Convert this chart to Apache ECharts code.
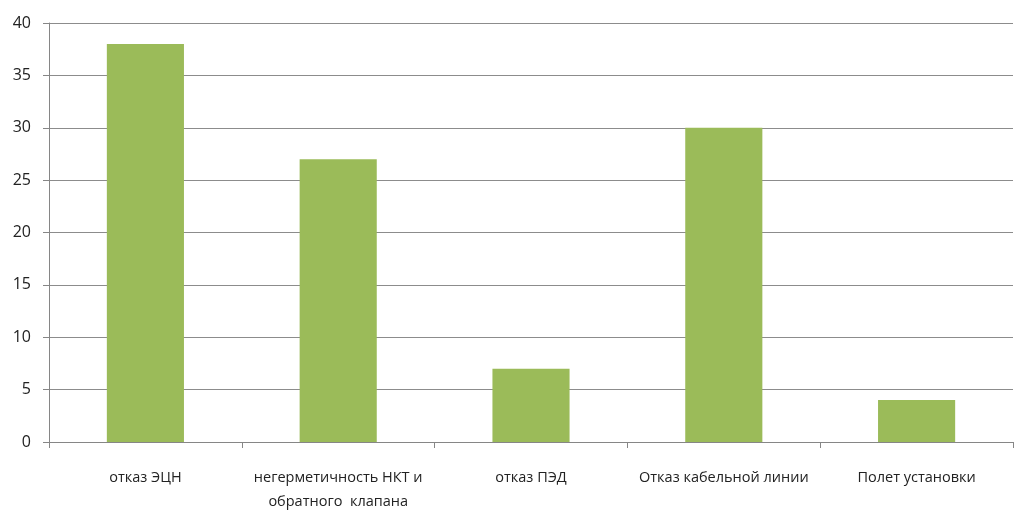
<!DOCTYPE html>
<html>
<head>
<meta charset="utf-8">
<script src="https://cdn.jsdelivr.net/npm/echarts@6/dist/echarts.min.js"></script>
<style>
  html, body { margin: 0; padding: 0; background: #fff; }
  #chart { width: 1018px; height: 514px; }
</style>
</head>
<body>
<div id="chart"></div>
<script>
// Causes of failures and their counts
const categories = [
  'отказ ЭЦН',
  'негерметичность НКТ и\nобратного  клапана',
  'отказ ПЭД',
  'Отказ кабельной линии',
  'Полет установки'
];
const counts = [38, 27, 7, 30, 4];
const yTicks = { min: 0, max: 40, interval: 5 };

const chart = echarts.init(document.getElementById('chart'), null, { renderer: 'canvas' });
chart.setOption({
  animation: false,
  backgroundColor: '#ffffff',
  grid: { left: 49, right: 5, top: 23, bottom: 69, containLabel: false },
  xAxis: {
    type: 'category',
    data: categories,
    axisLine: { lineStyle: { color: '#868686', width: 1 } },
    axisTick: { show: true, alignWithLabel: false, length: 6, lineStyle: { color: '#868686' } },
    axisLabel: {
      color: '#222222',
      fontFamily: 'Open Sans, DejaVu Sans, sans-serif',
      fontSize: 14.5,
      lineHeight: 24,
      margin: 24,
      interval: 0
    }
  },
  yAxis: {
    type: 'value',
    min: yTicks.min,
    max: yTicks.max,
    interval: yTicks.interval,
    axisLine: { show: true, lineStyle: { color: '#868686', width: 1 } },
    axisTick: { show: true, length: 6, lineStyle: { color: '#868686' } },
    splitLine: { show: true, lineStyle: { color: '#8c8c8c', width: 1 } },
    axisLabel: {
      color: '#222222',
      fontFamily: 'Open Sans, DejaVu Sans, sans-serif',
      fontSize: 16,
      margin: 18
    }
  },
  series: [{
    type: 'bar',
    data: counts,
    barWidth: '40%',
    itemStyle: { color: '#9BBB59' }
  }]
});
</script>
</body>
</html>
